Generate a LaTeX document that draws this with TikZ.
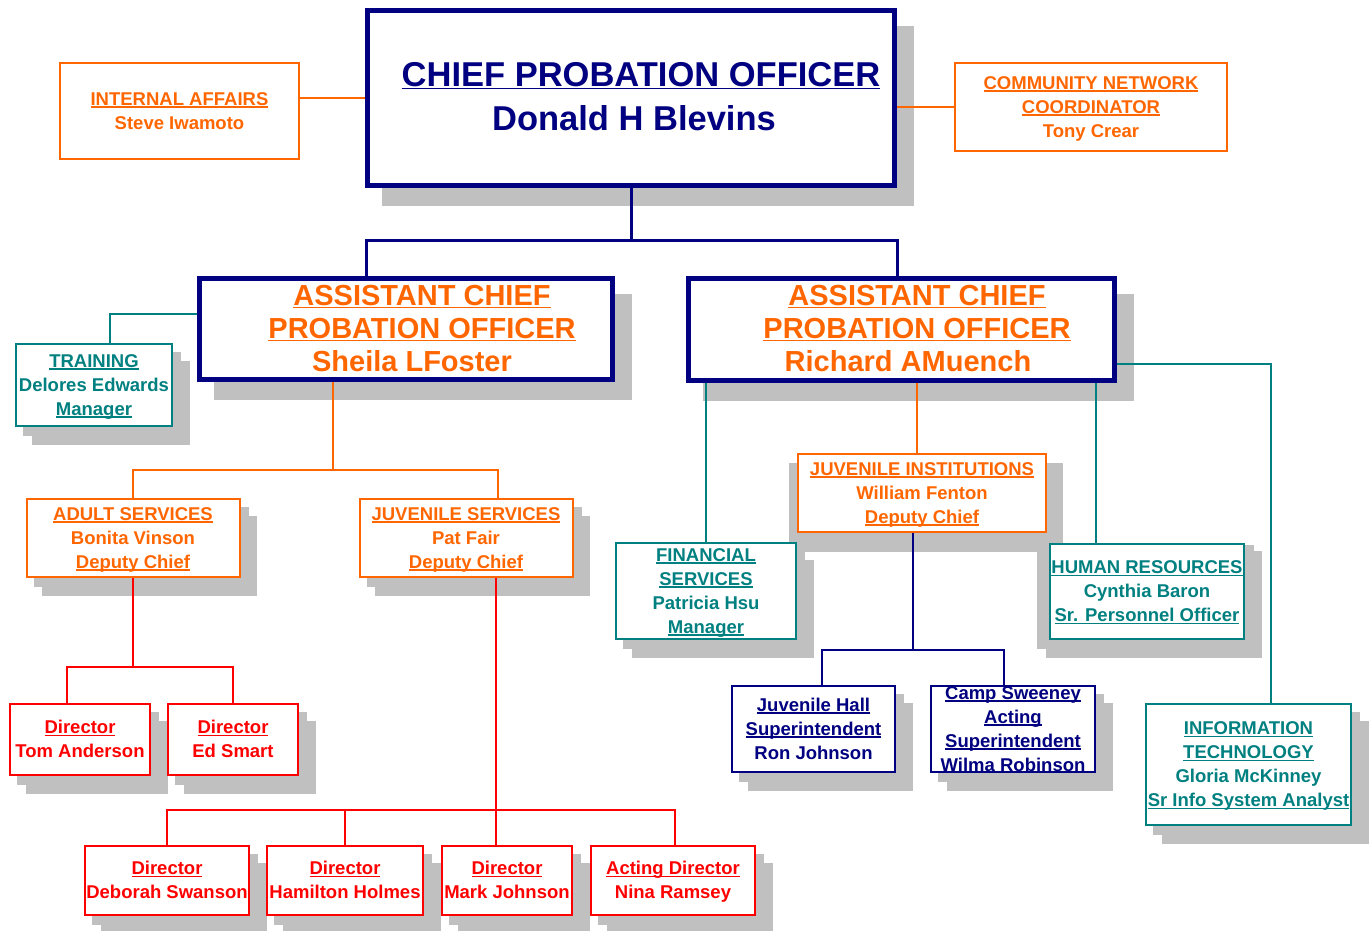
\documentclass[tikz,border=0pt]{standalone}
\usepackage{fontspec}
\setmainfont{Liberation Sans}
\usepackage{tikz}
\usetikzlibrary{shadows, backgrounds}

\definecolor{navyblue}{HTML}{000080}
\definecolor{fireorange}{HTML}{FF6600}
\definecolor{tealgreen}{HTML}{008080}
\definecolor{boxred}{HTML}{FF0000}
\definecolor{shadowgrey}{HTML}{C0C0C0}

% underlined title line
\newsavebox{\ulnbox}
\newcommand{\uln}[1]{\leavevmode\sbox{\ulnbox}{#1}%
    \rlap{\rule[-2.5pt]{\wd\ulnbox}{1.6pt}}\usebox{\ulnbox}}
% lines of a unit box, with fixed top and bottom
\newcommand{\unitlines}[1]{\rule{0pt}{18pt}#1\rule[-5.5pt]{0pt}{5.5pt}}

\begin{document}
\begin{tikzpicture}[x=1pt, y=-1pt,
    bigbox/.style = {draw=navyblue, line width=5pt, fill=white,
        drop shadow={shadow xshift=16.5pt, shadow yshift=-17.5pt,
            draw=shadowgrey, fill=shadowgrey, opacity=1}},
    stepshadow/.style = {
        drop shadow={shadow xshift=16.5pt, shadow yshift=-18pt,
            draw=shadowgrey, fill=shadowgrey, opacity=1},
        drop shadow={shadow xshift=8pt, shadow yshift=-9pt,
            draw=shadowgrey, fill=shadowgrey, opacity=1}},
    unit/.style = {draw=#1, text=#1, line width=2pt, fill=white,
        inner sep=0pt, align=center,
        font=\fontsize{18.5}{24}\selectfont\bfseries},
    actitle/.style = {text=fireorange, align=center,
        font=\fontsize{29}{33}\selectfont\bfseries},
    link/.style = {draw=#1, line width=2pt}]

\useasboundingbox (0,0) rectangle (1371,930);

% Chief
\node[bigbox, minimum width=527pt, minimum height=175pt] (chief) at (631,98) {};
\node[text=navyblue, align=center, font=\fontsize{34.5}{44}\selectfont\bfseries]
    (chieftext) at (641,97) {\uln{CHIEF PROBATION OFFICER}\\Donald H Blevins\hspace*{14pt}};

% Staff beside the chief
\node[unit=fireorange, minimum width=239pt, minimum height=96pt] (intaff) at (179.5,111)
    {\unitlines{\uln{INTERNAL AFFAIRS}\\Steve Iwamoto}};
\node[unit=fireorange, minimum width=272pt, minimum height=88pt] (community) at (1091,107)
    {\unitlines{\uln{COMMUNITY NETWORK}\\\uln{COORDINATOR}\\Tony Crear}};

% Assistant chiefs
\node[bigbox, minimum width=413pt, minimum height=101pt] (foster) at (406,329) {};
\node[actitle] (fostertext) at (422,329)
    {\uln{ASSISTANT CHIEF}\\\uln{PROBATION OFFICER}\\Sheila LFoster\hspace*{20pt}};
\node[bigbox, minimum width=426pt, minimum height=102pt] (muench) at (901.5,329.5) {};
\node[actitle] (muenchtext) at (917,329)
    {\uln{ASSISTANT CHIEF}\\\uln{PROBATION OFFICER}\\Richard AMuench\hspace*{18pt}};

% Foster side
\node[unit=tealgreen, stepshadow, minimum width=156pt, minimum height=82pt] (training) at (94,385)
    {\unitlines{\uln{TRAINING}\\Delores Edwards\\\uln{Manager}}};
\node[unit=fireorange, stepshadow, minimum width=213pt, minimum height=78pt] (adult) at (133,538)
    {\unitlines{\uln{ADULT SERVICES}\\Bonita Vinson\\\uln{Deputy Chief}}};
\node[unit=fireorange, stepshadow, minimum width=213pt, minimum height=78pt] (juvserv) at (466,538)
    {\unitlines{\uln{JUVENILE SERVICES}\\Pat Fair\\\uln{Deputy Chief}}};

% Directors
\node[unit=boxred, stepshadow, minimum width=140pt, minimum height=71pt] (anderson) at (80,739.5)
    {\unitlines{\uln{Director}\\Tom Anderson}};
\node[unit=boxred, stepshadow, minimum width=130pt, minimum height=71pt] (smart) at (233,739.5)
    {\unitlines{\uln{Director}\\Ed Smart}};
\node[unit=boxred, stepshadow, minimum width=164pt, minimum height=69pt] (swanson) at (167,880.5)
    {\unitlines{\uln{Director}\\Deborah Swanson}};
\node[unit=boxred, stepshadow, minimum width=156pt, minimum height=69pt] (holmes) at (345,880.5)
    {\unitlines{\uln{Director}\\Hamilton Holmes}};
\node[unit=boxred, stepshadow, minimum width=130pt, minimum height=69pt] (mjohnson) at (507,880.5)
    {\unitlines{\uln{Director}\\Mark Johnson}};
\node[unit=boxred, stepshadow, minimum width=164pt, minimum height=69pt] (ramsey) at (673,880.5)
    {\unitlines{\uln{Acting Director}\\Nina Ramsey}};

% Muench side
\node[unit=fireorange, minimum width=248pt, minimum height=78pt] (juvinst) at (922,493)
    {\unitlines{\uln{JUVENILE INSTITUTIONS}\\William Fenton\\\uln{Deputy Chief}}};
\node[unit=tealgreen, stepshadow, minimum width=180pt, minimum height=96pt] (finance) at (706,591)
    {\unitlines{\uln{FINANCIAL}\\\uln{SERVICES}\\Patricia Hsu\\\uln{Manager}}};
\node[unit=tealgreen, minimum width=194pt, minimum height=95pt] (hr) at (1147,591.5)
    {\unitlines{\uln{HUMAN RESOURCES}\\Cynthia Baron\\\uln{Sr. Personnel Officer}}};
\node[unit=navyblue, stepshadow, minimum width=163pt, minimum height=86pt] (juvhall) at (813.5,729)
    {\unitlines{\uln{Juvenile Hall}\\\uln{Superintendent}\\Ron Johnson}};
\node[unit=navyblue, stepshadow, minimum width=164pt, minimum height=86pt, inner ysep=-5pt] (sweeney) at (1013,729)
    {\unitlines{\uln{Camp Sweeney}\\\uln{Acting}\\\uln{Superintendent}\\Wilma Robinson}};
\node[unit=tealgreen, stepshadow, minimum width=205pt, minimum height=121pt] (infotech) at (1248.5,764.5)
    {\unitlines{\uln{INFORMATION}\\\uln{TECHNOLOGY}\\Gloria McKinney\\\uln{Sr Info System Analyst}}};

% Wider shadows behind institutions and HR
\begin{scope}[on background layer]
\fill[shadowgrey] ([shift={(-8pt,-10pt)}]juvinst.north west)
    rectangle ([shift={(16pt,-19pt)}]juvinst.south east);
\fill[shadowgrey] ([shift={(-12pt,-2pt)}]hr.north west)
    rectangle ([shift={(9pt,-9pt)}]hr.south east);
\fill[shadowgrey] ([shift={(-3pt,-8pt)}]hr.north west)
    rectangle ([shift={(17pt,-18pt)}]hr.south east);
\end{scope}

% Chief links
\coordinate (chiefbar) at (631,240);
\draw[link=navyblue, line width=3pt] (chief) -- (chiefbar);
\draw[link=navyblue, line width=3pt] ([xshift=-40pt]foster.north) |- (chiefbar)
    -| ([xshift=-4.5pt]muench.north);
\draw[link=fireorange] ([yshift=13pt]intaff.east) -- ([yshift=13pt]intaff.east -| chief.west);
\draw[link=fireorange] (community.west) -- (community.west -| chief.east);

% Foster links
\draw[link=tealgreen] ([yshift=15pt]foster.west) -| ([xshift=16pt]training.north);
\coordinate (fosterbar) at (333,470);
\draw[link=fireorange] ([xshift=-73pt]foster.south) -- (fosterbar);
\draw[link=fireorange] (adult.north) |- (fosterbar) -| ([xshift=32pt]juvserv.north);

% Director links
\coordinate (adultbar) at (133,667);
\draw[link=boxred] (adult) -- (adultbar);
\draw[link=boxred] ([xshift=-13pt]anderson.north) |- (adultbar) -| (smart.north);
\coordinate (juvbar) at (496,810);
\draw[link=boxred] ([xshift=30pt]juvserv.south) -- ([xshift=-11pt]mjohnson.north);
\draw[link=boxred] (swanson.north) |- (juvbar) -| ([xshift=2pt]ramsey.north);
\draw[link=boxred] (holmes.north) -- (holmes.north |- juvbar);

% Muench links
\draw[link=tealgreen] (finance.north) -- (finance.north |- muench.south);
\draw[link=fireorange] ([xshift=-5pt]juvinst.north) -- ([xshift=-5pt]juvinst.north |- muench.south);
\draw[link=tealgreen] ([xshift=-51pt]hr.north) -- ([xshift=-51pt]hr.north |- muench.south);
\draw[link=tealgreen] ([yshift=-34.5pt]muench.east) -| ([xshift=22.5pt]infotech.north);
\coordinate (instbar) at (913,650);
\draw[link=navyblue] ([xshift=-9pt]juvinst.south) -- (instbar);
\draw[link=navyblue] ([xshift=8.5pt]juvhall.north) |- (instbar) -| ([xshift=-9pt]sweeney.north);
\end{tikzpicture}
\end{document}
